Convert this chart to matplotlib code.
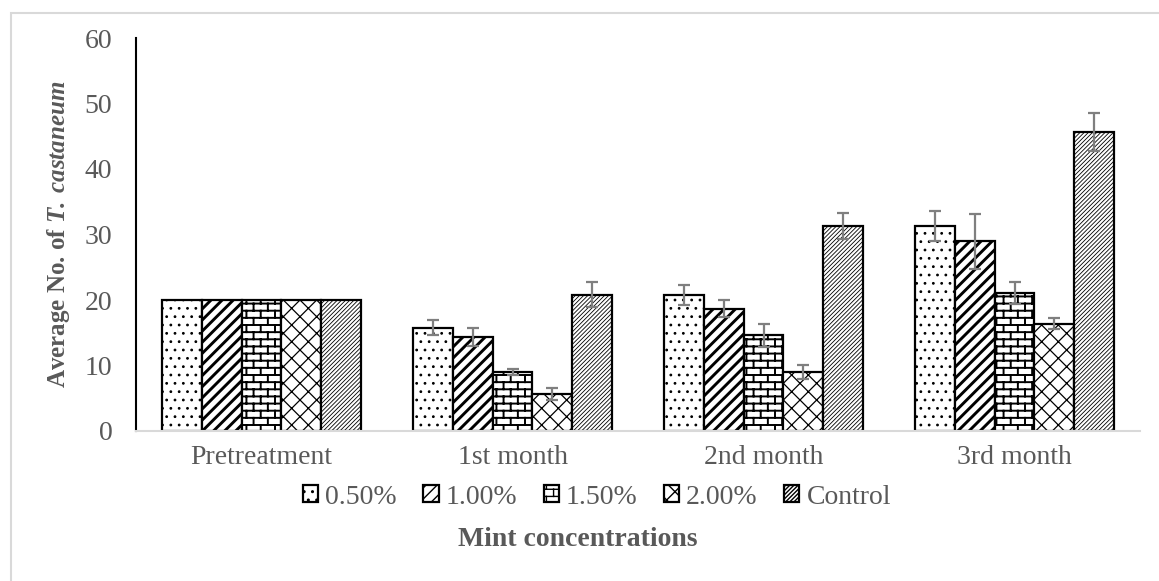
import matplotlib
matplotlib.use('Agg')
import matplotlib.pyplot as plt
import matplotlib.hatch as mhatch
from matplotlib.path import Path
from matplotlib.patches import Rectangle
import numpy as np


periods = ['Pretreatment', '1st month', '2nd month', '3rd month']
concentrations = ['0.50%', '1.00%', '1.50%', '2.00%', 'Control']

mean_050 = [20, 15.8, 20.8, 31.3]
mean_100 = [20, 14.4, 18.7, 29.0]
mean_150 = [20, 9.0, 14.6, 21.1]
mean_200 = [20, 5.7, 9.0, 16.4]
mean_control = [20, 20.8, 31.3, 45.7]

err_050 = [0, 1.2, 1.5, 2.3]
err_100 = [0, 1.4, 1.3, 4.2]
err_150 = [0, 0.5, 1.8, 1.7]
err_200 = [0, 0.9, 1.1, 0.8]
err_control = [0, 1.9, 2.0, 2.9]

GREY_TEXT = '#595959'


class BrickHatch(mhatch.HatchPatternBase):
    # brick wall pattern (rows + staggered joints), used in place of '|'
    def __init__(self, hatch, density):
        self.rows = hatch.count('|') * 14
        self.cols = self.rows // 2
        self.num_vertices = self.rows * 2 + (self.rows + 1) * self.cols * 2

    def set_vertices_and_codes(self, vertices, codes):
        k = 0
        for i in range(self.rows):
            yy = (i + 0.5) / self.rows
            vertices[k] = (0.0, yy)
            vertices[k + 1] = (1.0, yy)
            codes[k] = Path.MOVETO
            codes[k + 1] = Path.LINETO
            k += 2
        for i in range(self.rows + 1):
            shift = 0.25 if i % 2 == 0 else 0.75
            for j in range(self.cols):
                xx = (j + shift) / self.cols
                vertices[k] = (xx, (i - 0.5) / self.rows)
                vertices[k + 1] = (xx, (i + 0.5) / self.rows)
                codes[k] = Path.MOVETO
                codes[k + 1] = Path.LINETO
                k += 2


mhatch._hatch_types[mhatch._hatch_types.index(mhatch.VerticalHatch)] = BrickHatch

plt.rcParams['font.family'] = ['Liberation Serif', 'DejaVu Serif']
plt.rcParams['mathtext.fontset'] = 'custom'
plt.rcParams['mathtext.rm'] = 'Liberation Serif'
plt.rcParams['mathtext.bf'] = 'Liberation Serif:bold'
plt.rcParams['mathtext.bfit'] = 'Liberation Serif:italic:bold'
plt.rcParams['hatch.color'] = 'black'

fig, ax = plt.subplots(figsize=(11.59, 5.81), dpi=100)
fig.subplots_adjust(left=136/1159, right=1140/1159, bottom=1-431/581, top=1-38/581)

x = np.arange(len(periods))
width = 0.158

series = [
    (mean_050, err_050, '..', 0.8),
    (mean_100, err_100, '///', 2.1),
    (mean_150, err_150, '|', 1.4),
    (mean_200, err_200, 'xx', 0.9),
    (mean_control, err_control, '////////', 0.6),
]

for i, (means, errs, hatch, hlw) in enumerate(series):
    pos = x + (i - 2) * width
    with plt.rc_context({'hatch.linewidth': hlw}):
        bars = ax.bar(pos, means, width, color='white', edgecolor='black',
                      linewidth=1.6, hatch=hatch, label=concentrations[i], zorder=2)
    for b in bars:
        if hasattr(b, 'set_hatch_linewidth'):
            b.set_hatch_linewidth(hlw)
    # no error bars on the pretreatment counts
    ax.errorbar(pos[1:], means[1:], yerr=errs[1:], fmt='none', ecolor='#7f7f7f',
                elinewidth=1.6, capsize=4, capthick=1.6, zorder=3)

ax.set_xlim(-0.5, len(periods) - 0.5)
ax.set_ylim(0, 60)
ax.set_yticks(range(0, 61, 10))
ax.set_xticks(x)
ax.set_xticklabels(periods)

ax.spines['top'].set_visible(False)
ax.spines['right'].set_visible(False)
ax.spines['left'].set_color('black')
ax.spines['left'].set_linewidth(1.5)
ax.spines['bottom'].set_color('#d9d9d9')
ax.spines['bottom'].set_linewidth(1.5)

ax.tick_params(axis='both', length=0, labelsize=20, labelcolor=GREY_TEXT)
ax.tick_params(axis='y', pad=17)
ax.tick_params(axis='x', pad=10)

fig.text(59/1159, 1-234/581, r'Average No. of $\mathbfit{T.\,castaneum}$',
         rotation=90, ha='center', va='center', fontsize=18,
         fontweight='bold', color=GREY_TEXT)
fig.text(578/1159, 1-539/581, 'Mint concentrations', ha='center', va='center',
         fontsize=20, fontweight='bold', color=GREY_TEXT)

fig.legend(loc='center', bbox_to_anchor=(597/1159, 1-497/581), ncol=5,
           frameon=False, fontsize=20, handlelength=0.55, handleheight=0.55,
           handletextpad=0.25, columnspacing=0.95, labelcolor=GREY_TEXT)

fig.add_artist(Rectangle((11/1159, -0.1), 1.2, 1-13/581+0.1, transform=fig.transFigure,
                         fill=False, edgecolor='#d9d9d9', linewidth=1.5))

fig.savefig('out.png', dpi=100)
